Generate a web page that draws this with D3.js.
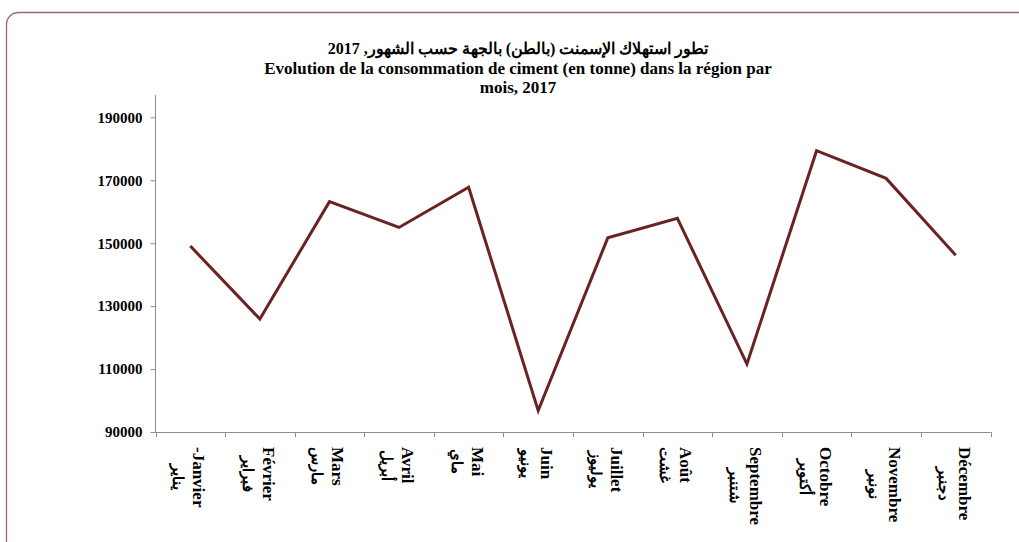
<!DOCTYPE html>
<html>
<head>
<meta charset="utf-8">
<script src="https://cdn.jsdelivr.net/npm/d3@7"></script>
<style>
  html, body { margin: 0; padding: 0; background: #fff; }
  svg { display: block; }
</style>
</head>
<body>
<svg id="chart" width="1019" height="542"></svg>
<script>
const monthsFr = ["-Janvier", "Février", "Mars", "Avril", "Mai", "Juin", "Juillet", "Août", "Septembre", "Octobre", "Novembre", "Décembre"];
const monthsAr = ["يناير", "فبراير", "مارس", "أبريل", "ماي", "يونيو", "يوليوز", "غشت", "شتنبر", "أكتوبر", "نونبر", "دجنبر"];
const consumption = [149100, 125900, 163200, 155000, 167800, 96800, 151700, 157900, 111600, 179400, 170600, 146200];
const yTicks = [90000, 110000, 130000, 150000, 170000, 190000];
const titleLines = [
  "تطور استهلاك الإسمنت (بالطن) بالجهة حسب الشهور, 2017",
  "Evolution de la consommation de ciment (en tonne) dans la région par",
  "mois, 2017"
];

const svg = d3.select("#chart");
const serif = "'Liberation Serif', 'Times New Roman', serif";
const axisColor = "#8c8c8c";
const lineColor = "#6b2222";

// outer frame
svg.append("rect")
  .attr("x", 6.5).attr("y", 12.5)
  .attr("width", 1040).attr("height", 560)
  .attr("rx", 12).attr("ry", 12)
  .attr("fill", "#fff")
  .attr("stroke", "#9a6a6a").attr("stroke-width", 1.3);

const plot = { left: 155.5, right: 990.5, top: 95, bottom: 432 };

const x = d3.scaleBand().domain(d3.range(monthsFr.length)).range([plot.left, plot.right]).padding(0);
const y = d3.scaleLinear().domain([90000, 197100]).range([plot.bottom, plot.top]);

// title
const title = svg.append("text")
  .attr("text-anchor", "middle")
  .attr("font-family", serif)
  .attr("font-weight", "bold")
  .attr("font-size", 17)
  .attr("fill", "#000");
titleLines.forEach((t, i) => {
  title.append("tspan")
    .attr("x", 518)
    .attr("y", 54 + i * 19.5)
    .attr("font-size", i === 0 ? 16 : 17)
    .text(t);
});

// y axis
const yAxis = svg.append("g")
  .attr("transform", `translate(${plot.left},0)`)
  .call(d3.axisLeft(y).tickValues(yTicks).tickSize(5).tickPadding(8).tickFormat(d3.format("d")));
yAxis.select(".domain").attr("stroke", axisColor).attr("d", `M-0,${plot.top}V${plot.bottom}`);
yAxis.selectAll(".tick line").attr("stroke", axisColor);
yAxis.selectAll(".tick text")
  .attr("font-family", serif).attr("font-weight", "bold").attr("font-size", 15).attr("fill", "#000");

// x axis
const xAxis = svg.append("g")
  .attr("transform", `translate(0,${plot.bottom})`);
xAxis.append("path")
  .attr("d", `M${plot.left},0.5H${plot.right}`)
  .attr("stroke", axisColor).attr("fill", "none");
const bounds = d3.range(monthsFr.length + 1).map(i => i < monthsFr.length ? x(i) : x(monthsFr.length - 1) + x.bandwidth());
xAxis.selectAll("line.tk").data(bounds).join("line")
  .attr("class", "tk")
  .attr("x1", d => Math.round(d) + 0.5).attr("x2", d => Math.round(d) + 0.5)
  .attr("y1", 0).attr("y2", 5)
  .attr("stroke", axisColor);

// x labels (rotated, French + Arabic)
const labelTop = 447;
monthsFr.forEach((fr, i) => {
  const cx = x(i) + x.bandwidth() / 2;
  const g = svg.append("g");
  const tFr = g.append("text")
    .attr("text-anchor", "middle")
    .attr("font-family", serif).attr("font-weight", "bold").attr("font-size", 17)
    .attr("fill", "#000")
    .attr("x", 0).attr("y", 0)
    .text(fr);
  const tAr = g.append("text")
    .attr("text-anchor", "middle")
    .attr("font-family", serif).attr("font-weight", "bold").attr("font-size", 15)
    .attr("fill", "#000")
    .attr("x", 0).attr("y", 20)
    .text(monthsAr[i]);
  const w = Math.max(tFr.node().getComputedTextLength(), tAr.node().getComputedTextLength());
  g.attr("transform", `translate(${cx + 3},${labelTop + w / 2}) rotate(90)`);
});

// line
const line = d3.line()
  .x((d, i) => x(i) + x.bandwidth() / 2)
  .y(d => y(d));
svg.append("path")
  .datum(consumption)
  .attr("d", line)
  .attr("fill", "none")
  .attr("stroke", lineColor)
  .attr("stroke-width", 3)
  .attr("stroke-linejoin", "miter");
</script>
</body>
</html>
